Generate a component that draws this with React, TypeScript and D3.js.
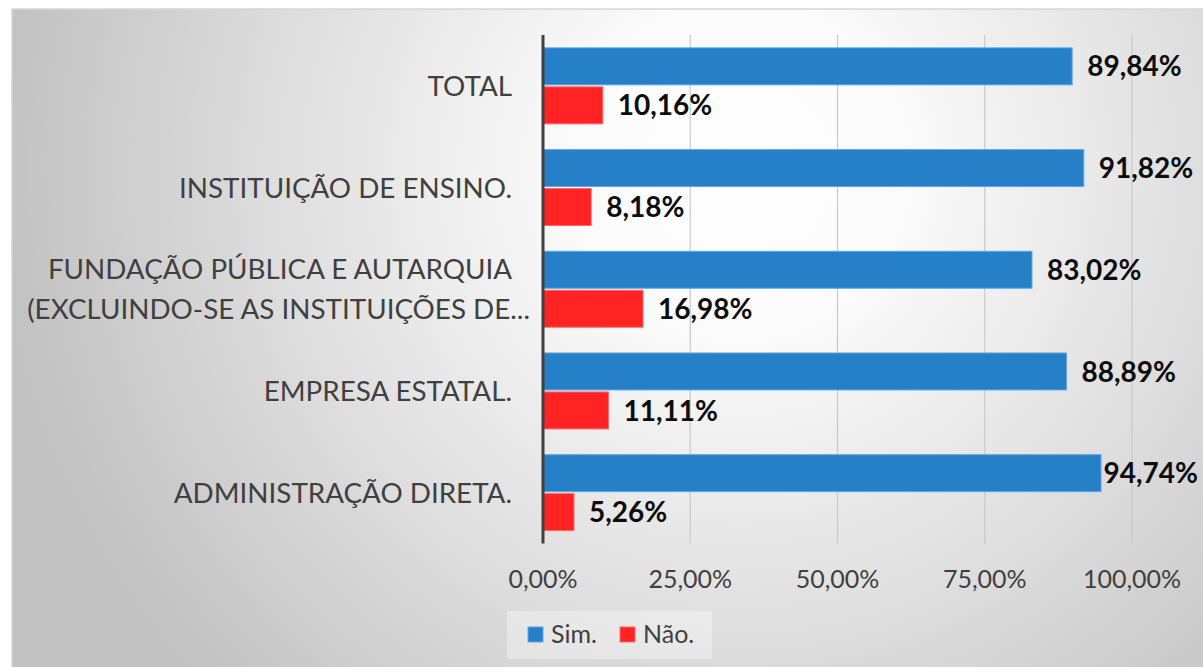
import React, { useEffect } from "react";
import * as d3 from "d3";

const categories = [
  ["TOTAL"],
  ["INSTITUIÇÃO DE ENSINO."],
  ["FUNDAÇÃO PÚBLICA E AUTARQUIA", "(EXCLUINDO-SE AS INSTITUIÇÕES DE..."],
  ["EMPRESA ESTATAL."],
  ["ADMINISTRAÇÃO DIRETA."],
];
const categoryKeys = ["TOTAL", "ENSINO", "FUNDACAO", "EMPRESA", "ADMIN"];
const seriesNames = ["Sim.", "Não."];
const simValues = [0.8984, 0.9182, 0.8302, 0.8889, 0.9474];
const naoValues = [0.1016, 0.0818, 0.1698, 0.1111, 0.0526];
const tickValues = [0, 0.25, 0.5, 0.75, 1.0];
const seriesColors = ["#2580c8", "#ff2323"];
const seriesStroke = ["#62a6e4", "#ff6a6a"];

const W = 1203;
const H = 667;
const fmt = (v: number) => (v * 100).toFixed(2).replace(".", ",") + "%";

export default function App() {
  useEffect(() => {
    document.body.style.margin = "0";
    document.body.style.overflow = "hidden";
  }, []);

  const x = d3.scaleLinear().domain([0, 1]).range([543, 1132]);
  const y0 = d3.scaleBand<string>().domain(categoryKeys).range([35, 543.5]).padding(0);
  const y1 = d3
    .scaleBand<string>()
    .domain(seriesNames)
    .range([0, y0.bandwidth()])
    .paddingInner(0.051)
    .paddingOuter(0.33);

  const series = [simValues, naoValues];
  const labelFont = "Lato, 'Open Sans', sans-serif";

  return (
    <svg width={W} height={H} style={{ position: "absolute", left: 0, top: 0, display: "block" }}>
      <defs>
        <radialGradient id="bg" gradientUnits="userSpaceOnUse" cx={740} cy={170} r={740}>
          <stop offset="0" stopColor="#ffffff" />
          <stop offset="0.22" stopColor="#fbfbfb" />
          <stop offset="0.6" stopColor="#e0e0e0" />
          <stop offset="1" stopColor="#c2c2c2" />
        </radialGradient>
      </defs>
      <rect x={0} y={0} width={W} height={H} fill="#ffffff" />
      <rect x={12} y={9} width={W} height={H} fill="url(#bg)" stroke="#d6d6d6" strokeWidth={1.5} />

      {/* gridlines */}
      {tickValues.slice(1).map((t) => (
        <line key={"g" + t} x1={x(t)} x2={x(t)} y1={35} y2={543.5} stroke="#c9c9c9" strokeWidth={1.2} />
      ))}

      {/* bars */}
      {categoryKeys.map((k, i) => (
        <g key={k} transform={`translate(0,${y0(k)})`}>
          {seriesNames.map((s, j) => {
            const v = series[j][i];
            const yy = y1(s)!;
            const bw = y1.bandwidth();
            const xe = x(v);
            const tw = 97;
            let lx = xe + 15;
            let anchor: "start" | "end" = "start";
            if (lx + tw > 1198) {
              lx = 1198;
              anchor = "end";
            }
            return (
              <g key={s}>
                <rect
                  x={x(0)}
                  y={yy}
                  width={xe - x(0)}
                  height={bw}
                  fill={seriesColors[j]}
                  stroke={seriesStroke[j]}
                  strokeWidth={1}
                />
                <text
                  x={lx}
                  y={yy + bw / 2}
                  dy="0.36em"
                  textAnchor={anchor}
                  fontFamily={labelFont}
                  fontWeight="bold"
                  fontSize={28}
                  fill="#0d0d0d"
                >
                  {fmt(v)}
                </text>
              </g>
            );
          })}
        </g>
      ))}

      {/* axis line */}
      <line x1={x(0)} x2={x(0)} y1={35} y2={543.5} stroke="#404040" strokeWidth={3} />

      {/* category labels */}
      {categoryKeys.map((k, i) => {
        const lines = categories[i];
        const cy = y0(k)! + y0.bandwidth() / 2;
        return lines.map((ln, li) => (
          <text
            key={k + li}
            x={li === 1 ? 530 : 512}
            y={cy + (li - (lines.length - 1) / 2) * 40}
            dy="0.36em"
            textAnchor="end"
            fontFamily={labelFont}
            fontSize={27.8}
            fill="#404040"
          >
            {ln}
          </text>
        ));
      })}

      {/* x tick labels */}
      {tickValues.map((t) => (
        <text
          key={"t" + t}
          x={x(t)}
          y={588}
          textAnchor="middle"
          fontFamily={labelFont}
          fontSize={25}
          fill="#404040"
        >
          {fmt(t)}
        </text>
      ))}

      {/* legend */}
      <rect x={507} y={611} width={205} height={48} fill="#ffffff" fillOpacity={0.35} />
      {seriesNames.map((s, j) => {
        const lx = j === 0 ? 528 : 620;
        return (
          <g key={"l" + s}>
            <rect x={lx} y={627} width={15} height={15} fill={seriesColors[j]} stroke={seriesStroke[j]} strokeWidth={1} />
            <text x={lx + 23} y={643} fontFamily={labelFont} fontSize={25} fill="#404040">
              {s}
            </text>
          </g>
        );
      })}
    </svg>
  );
}
